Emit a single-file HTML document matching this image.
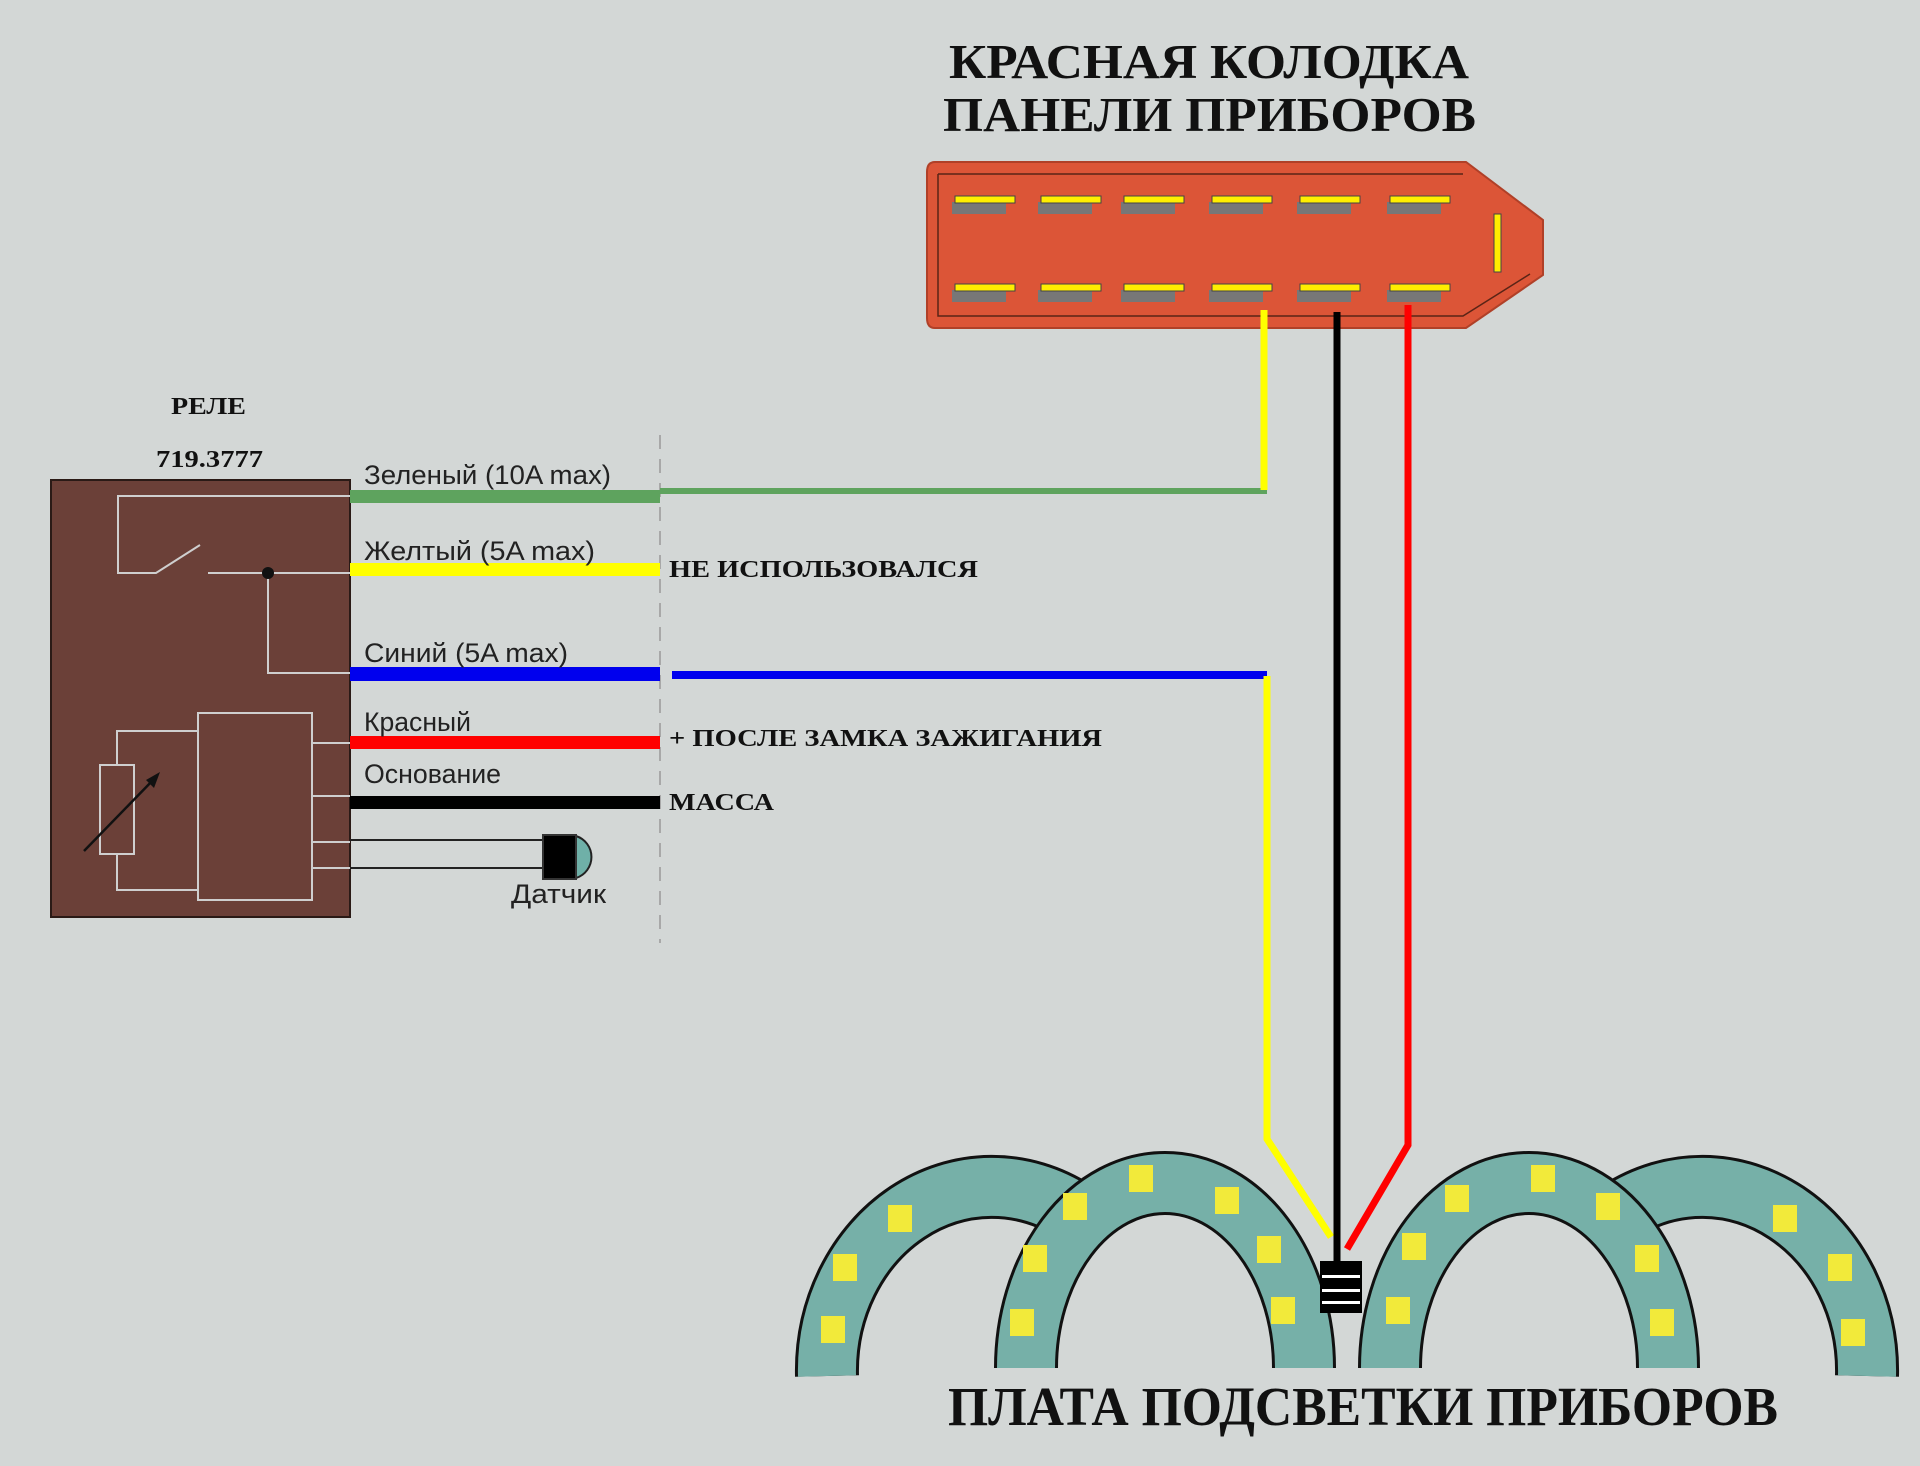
<!DOCTYPE html>
<html><head><meta charset="utf-8"><style>
html,body{margin:0;padding:0;background:#d3d7d6;}
svg{display:block}
.ser{font-family:"Liberation Serif","Noto Serif CJK SC",serif;font-weight:bold;fill:#111}
.san{font-family:"Liberation Sans Narrow","Liberation Sans","DejaVu Sans",sans-serif;fill:#222}
</style></head><body>
<svg width="1920" height="1466" viewBox="0 0 1920 1466" xmlns="http://www.w3.org/2000/svg">
<rect width="1920" height="1466" fill="#d3d7d6"/>
<text class="ser" x="949" y="78" font-size="49" textLength="520" lengthAdjust="spacingAndGlyphs">КРАСНАЯ КОЛОДКА</text>
<text class="ser" x="943" y="131" font-size="49" textLength="533" lengthAdjust="spacingAndGlyphs">ПАНЕЛИ ПРИБОРОВ</text>

<path d="M935,162 L1466,162 L1543,220 L1543,275 L1466,328 L935,328 Q927,328 927,318 L927,172 Q927,162 935,162 Z" fill="#dc5537" stroke="#b04028" stroke-width="2"/>
<path d="M938,174 L1463,174 M938,174 L938,316 L1463,316 L1530,274" fill="none" stroke="#5a2416" stroke-width="1.5"/>
<g>
<rect x="952" y="202" width="54" height="12" fill="#777"/><rect x="955" y="196" width="60" height="7" fill="#ffee00" stroke="#444" stroke-width="1"/>
<rect x="1038" y="202" width="54" height="12" fill="#777"/><rect x="1041" y="196" width="60" height="7" fill="#ffee00" stroke="#444" stroke-width="1"/>
<rect x="1121" y="202" width="54" height="12" fill="#777"/><rect x="1124" y="196" width="60" height="7" fill="#ffee00" stroke="#444" stroke-width="1"/>
<rect x="1209" y="202" width="54" height="12" fill="#777"/><rect x="1212" y="196" width="60" height="7" fill="#ffee00" stroke="#444" stroke-width="1"/>
<rect x="1297" y="202" width="54" height="12" fill="#777"/><rect x="1300" y="196" width="60" height="7" fill="#ffee00" stroke="#444" stroke-width="1"/>
<rect x="1387" y="202" width="54" height="12" fill="#777"/><rect x="1390" y="196" width="60" height="7" fill="#ffee00" stroke="#444" stroke-width="1"/>
<rect x="952" y="290" width="54" height="12" fill="#777"/><rect x="955" y="284" width="60" height="7" fill="#ffee00" stroke="#444" stroke-width="1"/>
<rect x="1038" y="290" width="54" height="12" fill="#777"/><rect x="1041" y="284" width="60" height="7" fill="#ffee00" stroke="#444" stroke-width="1"/>
<rect x="1121" y="290" width="54" height="12" fill="#777"/><rect x="1124" y="284" width="60" height="7" fill="#ffee00" stroke="#444" stroke-width="1"/>
<rect x="1209" y="290" width="54" height="12" fill="#777"/><rect x="1212" y="284" width="60" height="7" fill="#ffee00" stroke="#444" stroke-width="1"/>
<rect x="1297" y="290" width="54" height="12" fill="#777"/><rect x="1300" y="284" width="60" height="7" fill="#ffee00" stroke="#444" stroke-width="1"/>
<rect x="1387" y="290" width="54" height="12" fill="#777"/><rect x="1390" y="284" width="60" height="7" fill="#ffee00" stroke="#444" stroke-width="1"/>
<rect x="1494" y="214" width="7" height="58" fill="#ffee00" stroke="#444" stroke-width="1"/>
</g>

<text class="ser" x="171" y="414" font-size="24" textLength="75" lengthAdjust="spacingAndGlyphs">РЕЛЕ</text>
<text class="ser" x="156" y="467" font-size="24" textLength="107" lengthAdjust="spacingAndGlyphs">719.3777</text>
<rect x="51" y="480" width="299" height="437" fill="#6b4038" stroke="#2a1a16" stroke-width="2"/>
<g fill="none" stroke="#cfcfcf" stroke-width="2">
<path d="M350,496 L118,496 L118,573 L156,573 L200,545"/>
<path d="M208,573 L350,573"/>
<path d="M268,573 L268,673 L350,673"/>
<rect x="198" y="713" width="114" height="187"/>
<rect x="100" y="765" width="34" height="89"/>
<path d="M117,765 L117,731 L198,731"/>
<path d="M117,854 L117,890 L198,890"/>
<path d="M312,743 L350,743 M312,796 L350,796 M312,842 L350,842 M312,868 L350,868"/>
</g>
<circle cx="268" cy="573" r="6" fill="#111"/>
<path d="M84,851 L155,778" stroke="#111" stroke-width="2.5"/>
<path d="M160,772 L146,780 L154,788 Z" fill="#111"/>

<line x1="660" y1="435" x2="660" y2="943" stroke="#999" stroke-width="1.5" stroke-dasharray="14,10"/>

<rect x="350" y="490" width="310" height="13" fill="#5ea35e"/>
<rect x="660" y="488" width="607" height="6" fill="#5ea35e"/>
<rect x="350" y="563" width="310" height="13" fill="#ffff00"/>
<rect x="350" y="667" width="310" height="14" fill="#0000ee"/>
<rect x="672" y="671" width="595" height="8" fill="#0000ee"/>
<rect x="350" y="736" width="310" height="13" fill="#ff0000"/>
<rect x="350" y="796" width="310" height="13" fill="#000"/>
<path d="M350,840 L545,840 M350,868 L545,868" stroke="#222" stroke-width="2"/>
<path d="M576,836 A22,22 0 0 1 576,878 Z" fill="#6fb0a8" stroke="#222" stroke-width="2"/>
<rect x="543" y="835" width="33" height="44" fill="#000" stroke="#333" stroke-width="2"/>

<text class="san" x="364" y="484" font-size="27" textLength="247" lengthAdjust="spacingAndGlyphs">Зеленый (10A max)</text>
<text class="san" x="364" y="560" font-size="27" textLength="231" lengthAdjust="spacingAndGlyphs">Желтый (5A max)</text>
<text class="san" x="364" y="662" font-size="27" textLength="204" lengthAdjust="spacingAndGlyphs">Синий (5A max)</text>
<text class="san" x="364" y="731" font-size="27" textLength="107" lengthAdjust="spacingAndGlyphs">Красный</text>
<text class="san" x="364" y="783" font-size="27" textLength="137" lengthAdjust="spacingAndGlyphs">Основание</text>
<text class="san" x="511" y="903" font-size="27" textLength="95" lengthAdjust="spacingAndGlyphs">Датчик</text>
<text class="ser" x="669" y="577" font-size="24" textLength="309" lengthAdjust="spacingAndGlyphs">НЕ ИСПОЛЬЗОВАЛСЯ</text>
<text class="ser" x="669" y="746" font-size="24" textLength="433" lengthAdjust="spacingAndGlyphs">+ ПОСЛЕ ЗАМКА ЗАЖИГАНИЯ</text>
<text class="ser" x="669" y="810" font-size="24" textLength="105" lengthAdjust="spacingAndGlyphs">МАССА</text>

<!-- back gauges -->
<g stroke-linecap="butt" fill="none">
<path d="M827,1376 A165,184 0 0 1 1074.5,1211.6" stroke="#111" stroke-width="64"/>
<path d="M827,1376 A165,184 0 0 1 1074.5,1211.6" stroke="#76b0a8" stroke-width="58"/>
<path d="M1619.5,1211.6 A165,184 0 0 1 1867,1376" stroke="#111" stroke-width="64"/>
<path d="M1619.5,1211.6 A165,184 0 0 1 1867,1376" stroke="#76b0a8" stroke-width="58"/>
</g>
<g fill="#f2ea3a">
<rect x="888" y="1205" width="24" height="27"/>
<rect x="833" y="1254" width="24" height="27"/>
<rect x="821" y="1316" width="24" height="27"/>
<rect x="1773" y="1205" width="24" height="27"/>
<rect x="1828" y="1254" width="24" height="27"/>
<rect x="1841" y="1319" width="24" height="27"/>
</g>
<!-- front gauges -->
<g stroke-linecap="butt" fill="none">
<path d="M1026,1368 A139,185 0 0 1 1304,1368" stroke="#111" stroke-width="64"/>
<path d="M1026,1368 A139,185 0 0 1 1304,1368" stroke="#76b0a8" stroke-width="58"/>
<path d="M1390,1368 A139,185 0 0 1 1668,1368" stroke="#111" stroke-width="64"/>
<path d="M1390,1368 A139,185 0 0 1 1668,1368" stroke="#76b0a8" stroke-width="58"/>
</g>
<g fill="#f2ea3a">
<rect x="1129" y="1165" width="24" height="27"/>
<rect x="1063" y="1193" width="24" height="27"/>
<rect x="1215" y="1187" width="24" height="27"/>
<rect x="1023" y="1245" width="24" height="27"/>
<rect x="1257" y="1236" width="24" height="27"/>
<rect x="1010" y="1309" width="24" height="27"/>
<rect x="1271" y="1297" width="24" height="27"/>
<rect x="1531" y="1165" width="24" height="27"/>
<rect x="1445" y="1185" width="24" height="27"/>
<rect x="1596" y="1193" width="24" height="27"/>
<rect x="1402" y="1233" width="24" height="27"/>
<rect x="1635" y="1245" width="24" height="27"/>
<rect x="1386" y="1297" width="24" height="27"/>
<rect x="1650" y="1309" width="24" height="27"/>
</g>

<polyline points="1264,310 1264,490" fill="none" stroke="#ffff00" stroke-width="7"/>
<polyline points="1267,676 1267,1139 1331,1237" fill="none" stroke="#ffff00" stroke-width="7"/>
<polyline points="1337,312 1337,1262" fill="none" stroke="#000" stroke-width="7"/>
<polyline points="1408,305 1408,1145 1347,1249" fill="none" stroke="#ff0000" stroke-width="7"/>
<rect x="1320" y="1261" width="42" height="52" fill="#000"/>
<rect x="1322" y="1275" width="38" height="3" fill="#fff"/>
<rect x="1322" y="1289" width="38" height="3" fill="#fff"/>
<rect x="1322" y="1301" width="38" height="3" fill="#fff"/>

<text class="ser" x="948" y="1425" font-size="55" textLength="830" lengthAdjust="spacingAndGlyphs">ПЛАТА ПОДСВЕТКИ ПРИБОРОВ</text>
</svg>
</body></html>
